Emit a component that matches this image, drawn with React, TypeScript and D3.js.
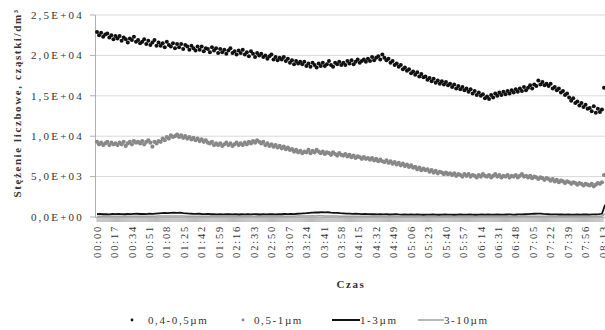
import React, { useEffect, useRef } from 'react';
import * as d3 from 'd3';

// x labels every 17 minutes
const timeLabels = [
  '00:00', '00:17', '00:34', '00:51', '01:08', '01:25', '01:42', '01:59', '02:16', '02:33',
  '02:50', '03:07', '03:24', '03:41', '03:58', '04:15', '04:32', '04:49', '05:06', '05:23',
  '05:40', '05:57', '06:14', '06:31', '06:48', '07:05', '07:22', '07:39', '07:56', '08:13',
];
const yTicks = [0, 5000, 10000, 15000, 20000, 25000];
const yTickLabels = ['0,0E+00', '5,0E+03', '1,0E+04', '1,5E+04', '2,0E+04', '2,5E+04'];

// particle counts read every 2 minutes, line series every 3 minutes
const dotMinutes = d3.range(0, 496, 2);
const lineMinutes = d3.range(0, 496, 3);

const size04to05 = [
  22900, 22500, 22800, 22300, 22600, 22700, 22200, 22500, 22000, 22400,
  22100, 22400, 21800, 22200, 22000, 21600, 22100, 21900, 22300, 21700,
  21900, 21500, 21700, 22000, 21400, 21800, 21300, 21600, 21900, 21200,
  21600, 21200, 21500, 21000, 21700, 21300, 21100, 21500, 20900, 21400,
  21000, 21400, 20800, 21300, 21100, 20700, 21200, 20900, 20600, 21100,
  20700, 21100, 20500, 20900, 20800, 20400, 21000, 20600, 20900, 20300,
  20800, 20400, 20700, 20200, 20600, 20900, 20300, 20500, 20100, 20600,
  20300, 20700, 20100, 20400, 19900, 20500, 20200, 19800, 20300, 20000,
  20200, 19800, 20000, 19600, 19900, 20100, 19500, 19800, 19400, 19700,
  19500, 19800, 19300, 19600, 19100, 19400, 18900, 19300, 19000, 19200,
  18900, 19200, 18700, 19000, 18600, 19100, 18800, 18500, 19000, 18700,
  19100, 18700, 18900, 19300, 18800, 18600, 19100, 18900, 19200, 18800,
  19100, 18800, 19300, 19000, 19400, 18900, 19200, 19500, 19100, 19300,
  19500, 19200, 19600, 19300, 19800, 19400, 19700, 19900, 19500, 20100,
  19700, 19400, 19600, 19100, 19300, 18800, 19000, 18600, 18800, 18300,
  18500, 18100, 18300, 17800, 18000, 17600, 17900, 17400, 17700, 17300,
  17400, 17000, 17200, 16800, 17100, 16600, 16900, 16500, 16800, 16400,
  16700, 16300, 16500, 16100, 16400, 15900, 16200, 15800, 16100, 15700,
  15900, 15500, 15800, 15300, 15600, 15100, 15400, 15000, 15200, 14700,
  14900, 14600, 15100, 14800, 15300, 15000, 15400, 15100, 15500, 15200,
  15600, 15300, 15700, 15400, 15800, 15500, 15900, 15600, 16100, 15700,
  16000, 16300, 15900, 16400, 16200, 16900, 16400, 16700, 16300, 16500,
  16200, 16500, 15900, 16100, 15700, 15900, 15400, 15600, 15100, 15300,
  14800, 14400, 14700, 14100, 14300, 13800, 14100, 13600, 13900, 13400,
  13500, 13100, 13700, 12900, 13400, 13000, 13300, 16000,
];

const size05to1 = [
  9300, 9000, 9200, 8900, 9100, 9300, 8900, 9200, 9000, 9100,
  8900, 9200, 9000, 9300, 8800, 9100, 9300, 9000, 9400, 9200,
  9300, 9100, 9400, 9000, 9300, 9500, 9200, 8700, 9300, 9100,
  9400, 9300, 9700, 9500, 9900, 9700, 10100, 9900, 10000, 10200,
  9900, 10100, 9800, 10000, 9700, 9900, 9600, 9800, 9500, 9700,
  9400, 9600, 9300, 9500, 9200, 9100, 9300, 8900, 9100, 8900,
  9100, 8800, 9000, 9200, 8900, 9100, 8800, 9000, 9200, 8900,
  9100, 8900, 9200, 9000, 9300, 9100, 9400, 9200, 9500, 9300,
  9100, 9300, 8900, 9100, 8800, 9000, 8700, 8900, 8600, 8800,
  8500, 8700, 8400, 8600, 8300, 8400, 8100, 8300, 8000, 8200,
  7900, 8100, 8000, 8300, 7900, 8200, 8000, 8300, 8100, 7900,
  8100, 7800, 8000, 7900, 7700, 8000, 7800, 7600, 7900, 7700,
  7600, 7800, 7500, 7700, 7400, 7600, 7300, 7500, 7400, 7200,
  7400, 7200, 7300, 7100, 7300, 7000, 7200, 6900, 7100, 6900,
  6800, 7000, 6700, 6900, 6600, 6800, 6500, 6700, 6400, 6600,
  6300, 6500, 6200, 6400, 6100, 6200, 5900, 6100, 5800, 6000,
  5800, 5900, 5600, 5800, 5500, 5700, 5400, 5600, 5500, 5300,
  5500, 5300, 5400, 5200, 5400, 5100, 5300, 5200, 5000, 5300,
  5100, 5300, 5000, 5200, 5100, 4900, 5200, 5000, 5300, 5100,
  5000, 5200, 4900, 5100, 5300, 5000, 5200, 4900, 5100, 5000,
  5200, 4900, 5100, 5000, 5200, 4900, 5100, 5300, 5000, 5100,
  4900, 5100, 4800, 5000, 4900, 4700, 4900, 4800, 4600, 4800,
  4700, 4500, 4700, 4400, 4600, 4300, 4500, 4400, 4200, 4400,
  4300, 4100, 4300, 4200, 4000, 4200, 4100, 3900, 4100, 4000,
  3900, 4100, 3800, 4000, 4200, 4100, 4300, 5200,
];

const size1to3 = [
  350, 380, 340, 360, 330, 370, 350, 390, 360, 340,
  370, 350, 380, 400, 370, 390, 360, 410, 380, 420,
  450, 480, 500, 470, 520, 550, 510, 540, 490, 460,
  430, 400, 380, 410, 370, 350, 380, 340, 360, 330,
  350, 320, 340, 360, 330, 350, 310, 340, 320, 350,
  330, 360, 340, 310, 350, 330, 360, 340, 320, 350,
  340, 370, 350, 380, 360, 400, 420, 450, 480, 520,
  550, 580, 560, 600, 570, 590, 550, 520, 500, 470,
  450, 430, 410, 390, 400, 380, 360, 370, 350, 340,
  360, 330, 350, 320, 340, 310, 330, 350, 320, 300,
  320, 300, 310, 290, 310, 300, 280, 300, 290, 310,
  300, 280, 300, 310, 290, 300, 280, 290, 310, 300,
  290, 310, 300, 280, 300, 320, 300, 310, 290, 300,
  310, 300, 290, 310, 320, 300, 310, 330, 320, 340,
  360, 380, 400, 420, 410, 380, 360, 340, 330, 320,
  310, 320, 300, 310, 290, 300, 310, 300, 320, 310,
  300, 320, 330, 350, 400, 1500,
];

const size3to10 = [
  90, 80, 100, 85, 95, 80, 90, 100, 85, 90,
  95, 85, 90, 100, 95, 90, 85, 100, 95, 105,
  110, 120, 115, 125, 130, 120, 125, 115, 110, 105,
  100, 95, 90, 100, 85, 90, 95, 85, 90, 80,
  85, 90, 80, 85, 95, 80, 85, 90, 80, 85,
  90, 80, 85, 80, 90, 85, 80, 90, 85, 80,
  85, 90, 95, 100, 105, 110, 120, 125, 130, 135,
  140, 135, 140, 145, 135, 130, 125, 115, 110, 100,
  95, 90, 85, 90, 80, 85, 80, 85, 80, 75,
  80, 75, 80, 75, 70, 75, 80, 70, 75, 70,
  75, 70, 65, 70, 75, 70, 65, 70, 65, 70,
  65, 70, 65, 70, 60, 65, 70, 65, 60, 65,
  70, 65, 60, 65, 70, 65, 60, 65, 70, 65,
  70, 65, 70, 75, 70, 75, 80, 75, 80, 85,
  90, 95, 100, 105, 100, 95, 90, 85, 80, 75,
  70, 75, 70, 65, 70, 65, 70, 65, 70, 65,
  70, 75, 80, 85, 100, 400,
];

const seriesNames = ['0,4-0,5µm', '0,5-1µm', '1-3µm', '3-10µm'];

const FONT = "'Liberation Serif', 'Times New Roman', serif";

function App() {
  const ref = useRef(null);

  useEffect(() => {
    if (!ref.current) return;
    const svg = d3.select(ref.current);
    svg.selectAll('*').remove();

    const x = d3.scaleLinear().domain([0, 493]).range([97, 603]);
    const y = d3.scaleLinear().domain([0, 25000]).range([217, 15]);

    // gridlines
    svg.append('g')
      .selectAll('line')
      .data(yTicks)
      .join('line')
      .attr('x1', 95)
      .attr('x2', 605)
      .attr('y1', d => y(d))
      .attr('y2', d => y(d))
      .attr('stroke', '#d9d9d9')
      .attr('stroke-width', 1);

    // y axis line + ticks
    svg.append('line')
      .attr('x1', 95.5).attr('x2', 95.5)
      .attr('y1', y(25000)).attr('y2', y(0))
      .attr('stroke', '#b0b0b0');
    svg.append('g')
      .selectAll('line')
      .data(yTicks)
      .join('line')
      .attr('x1', 90).attr('x2', 95)
      .attr('y1', d => y(d)).attr('y2', d => y(d))
      .attr('stroke', '#b0b0b0');
    svg.append('g')
      .selectAll('text')
      .data(yTicks)
      .join('text')
      .attr('x', 84)
      .attr('y', d => y(d))
      .attr('dy', '0.35em')
      .attr('text-anchor', 'end')
      .attr('font-family', FONT)
      .attr('font-size', 11)
      .attr('letter-spacing', 2.2)
      .attr('fill', '#333')
      .text((d, i) => yTickLabels[i]);

    // x axis: a tick on every minute, label every 17
    svg.append('g')
      .selectAll('line')
      .data(d3.range(0, 494))
      .join('line')
      .attr('x1', d => x(d)).attr('x2', d => x(d))
      .attr('y1', y(0)).attr('y2', y(0) + 5)
      .attr('stroke', '#a8a8a8')
      .attr('stroke-width', 0.8);
    svg.append('line')
      .attr('x1', 95).attr('x2', 605)
      .attr('y1', y(0) + 0.5).attr('y2', y(0) + 0.5)
      .attr('stroke', '#b0b0b0');
    svg.append('g')
      .selectAll('text')
      .data(timeLabels)
      .join('text')
      .attr('transform', (d, i) => `translate(${x(i * 17)},225) rotate(-90)`)
      .attr('dy', '0.35em')
      .attr('text-anchor', 'end')
      .attr('font-family', FONT)
      .attr('font-size', 10.5)
      .attr('letter-spacing', 1.8)
      .attr('fill', '#333')
      .text(d => d);

    // lines
    const line = d3.line<number>()
      .x((d, i) => x(lineMinutes[i]))
      .y(d => y(d));
    svg.append('path')
      .datum(size3to10)
      .attr('d', line)
      .attr('fill', 'none')
      .attr('stroke', '#a0a0a0')
      .attr('stroke-width', 1.5);
    svg.append('path')
      .datum(size1to3)
      .attr('d', line)
      .attr('fill', 'none')
      .attr('stroke', '#111')
      .attr('stroke-width', 1.8);

    // dot series
    svg.append('g')
      .selectAll('circle')
      .data(size05to1)
      .join('circle')
      .attr('cx', (d, i) => x(dotMinutes[i]))
      .attr('cy', d => y(d))
      .attr('r', 2.1)
      .attr('fill', '#888');
    svg.append('g')
      .selectAll('circle')
      .data(size04to05)
      .join('circle')
      .attr('cx', (d, i) => x(dotMinutes[i]))
      .attr('cy', d => y(d))
      .attr('r', 2)
      .attr('fill', '#111');

    // axis titles
    svg.append('text')
      .attr('transform', 'translate(21,103) rotate(-90)')
      .attr('text-anchor', 'middle')
      .attr('font-family', FONT)
      .attr('font-size', 11)
      .attr('font-weight', 'bold')
      .attr('letter-spacing', 1.6)
      .attr('fill', '#333')
      .text('Stężenie liczbowe, cząstki/dm³');
    svg.append('text')
      .attr('x', 351)
      .attr('y', 288)
      .attr('text-anchor', 'middle')
      .attr('font-family', FONT)
      .attr('font-size', 11)
      .attr('font-weight', 'bold')
      .attr('letter-spacing', 1.6)
      .attr('fill', '#333')
      .text('Czas');

    // legend
    const legend = [
      { name: seriesNames[0], kind: 'dot', color: '#111', mx: 132, tx: 148 },
      { name: seriesNames[1], kind: 'dot', color: '#888', mx: 243, tx: 254 },
      { name: seriesNames[2], kind: 'line', color: '#111', mx: 332, tx: 360 },
      { name: seriesNames[3], kind: 'line', color: '#a0a0a0', mx: 418, tx: 444 },
    ];
    const lg = svg.append('g');
    legend.forEach(item => {
      if (item.kind === 'dot') {
        lg.append('circle')
          .attr('cx', item.mx).attr('cy', 320).attr('r', 1.4)
          .attr('fill', item.color);
      } else {
        lg.append('line')
          .attr('x1', item.mx).attr('x2', item.tx)
          .attr('y1', 320).attr('y2', 320)
          .attr('stroke', item.color)
          .attr('stroke-width', item.color === '#111' ? 2 : 1.5);
      }
      lg.append('text')
        .attr('x', item.tx)
        .attr('y', 324)
        .attr('font-family', FONT)
        .attr('font-size', 11)
        .attr('letter-spacing', 1.6)
        .attr('fill', '#333')
        .text(item.name);
    });
  }, []);

  return (
    <svg
      ref={ref}
      width={605}
      height={330}
      style={{ position: 'absolute', left: 0, top: 0, background: '#fff' }}
    />
  );
}

export default App;
